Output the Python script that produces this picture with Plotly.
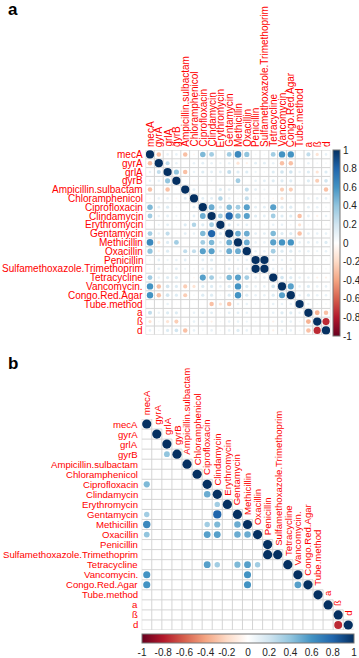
import numpy as np
import plotly.graph_objects as go

W, H = 359, 658

labels = ["mecA", "gyrA", "grlA", "gyrB", "Ampicillin.sulbactam", "Chloramphenicol",
          "Ciprofloxacin", "Clindamycin", "Erythromycin", "Gentamycin", "Methicillin",
          "Oxacillin", "Penicillin", "Sulfamethoxazole.Trimethoprim", "Tetracycline",
          "Vancomycin.", "Congo.Red.Agar", "Tube.method", "a", "ß", "d"]

# lower triangle of the correlation matrix, row i -> columns 0..i-1
lower_rows = [
    [],
    [-0.30],
    [0.10, 0.25],
    [0.10, 0.10, 0.40],
    [-0.30, 0.00, -0.30, 0.03],
    [-0.05, 0.10, 0.10, -0.05, 0.12],
    [0.45, 0.12, 0.15, 0.05, 0.00, 0.12],
    [0.35, 0.10, 0.12, 0.08, 0.05, 0.12, 0.50],
    [0.00, 0.08, 0.12, 0.04, 0.15, 0.30, 0.15, 0.35],
    [0.35, 0.10, 0.25, 0.05, 0.12, 0.10, 0.45, 0.80, 0.15],
    [0.65, -0.15, 0.15, 0.35, 0.00, 0.05, 0.35, 0.45, 0.12, 0.50],
    [0.40, -0.08, 0.15, 0.00, 0.25, 0.25, 0.55, 0.55, 0.12, 0.50, 0.50],
    [0.05, 0.12, 0.08, 0.10, 0.12, 0.05, 0.12, 0.15, 0.05, 0.12, 0.10, 0.10],
    [0.05, 0.12, 0.05, 0.12, 0.08, 0.05, 0.12, 0.12, 0.05, 0.12, 0.10, 0.10, 1.00],
    [0.35, 0.10, 0.15, 0.15, 0.00, -0.05, 0.55, 0.35, 0.10, 0.45, 0.55, 0.35, 0.10, 0.10],
    [0.60, -0.30, 0.20, 0.15, -0.25, -0.15, 0.15, 0.15, 0.10, 0.15, 0.60, 0.15, 0.10, 0.10, 0.20],
    [0.60, -0.30, 0.20, 0.15, -0.25, 0.05, 0.15, 0.15, 0.05, 0.15, 0.60, 0.15, 0.10, 0.10, 0.15, 0.55],
    [0.00, 0.00, 0.10, 0.03, 0.00, 0.03, 0.00, -0.30, -0.15, -0.30, 0.10, 0.10, 0.05, 0.05, 0.10, 0.10, 0.10],
    [0.25, 0.10, 0.15, 0.15, 0.00, 0.10, 0.12, 0.12, 0.05, 0.12, 0.12, 0.10, 0.05, 0.05, 0.10, 0.15, 0.15, 0.10],
    [-0.15, 0.05, -0.15, -0.25, 0.05, 0.10, 0.10, -0.08, 0.05, 0.10, 0.10, 0.08, 0.05, 0.05, -0.08, 0.10, 0.10, 0.05, -0.35],
    [0.10, 0.05, 0.15, 0.20, -0.30, 0.10, 0.05, 0.10, 0.05, 0.10, 0.15, 0.10, 0.05, 0.05, -0.08, 0.10, 0.10, 0.05, -0.30, -0.75],
]

# significant pairs shown in panel b (row, column)
sig_pairs = [
    ("gyrB", "grlA"),
    ("Ciprofloxacin", "mecA"),
    ("Clindamycin", "Ciprofloxacin"),
    ("Erythromycin", "Clindamycin"),
    ("Gentamycin", "mecA"), ("Gentamycin", "Clindamycin"),
    ("Methicillin", "mecA"), ("Methicillin", "Ciprofloxacin"), ("Methicillin", "Clindamycin"),
    ("Methicillin", "Gentamycin"),
    ("Oxacillin", "mecA"), ("Oxacillin", "Ciprofloxacin"), ("Oxacillin", "Clindamycin"),
    ("Oxacillin", "Gentamycin"), ("Oxacillin", "Methicillin"),
    ("Sulfamethoxazole.Trimethoprim", "Penicillin"),
    ("Tetracycline", "Ciprofloxacin"), ("Tetracycline", "Clindamycin"), ("Tetracycline", "Gentamycin"),
    ("Tetracycline", "Methicillin"), ("Tetracycline", "Oxacillin"),
    ("Vancomycin.", "mecA"), ("Vancomycin.", "Methicillin"),
    ("Congo.Red.Agar", "mecA"), ("Congo.Red.Agar", "Methicillin"), ("Congo.Red.Agar", "Vancomycin."),
    ("d", "ß"),
]

cbar_vals = [-1, -0.8, -0.6, -0.4, -0.2, 0, 0.2, 0.4, 0.6, 0.8, 1]
cbar_text = ["-1", "-0.8", "-0.6", "-0.4", "-0.2", "0", "0.2", "0.4", "0.6", "0.8", "1"]

rdbu = ["#67001F", "#B2182B", "#D6604D", "#F4A582", "#FDDBC7", "#FFFFFF",
        "#D1E5F0", "#92C5DE", "#4393C3", "#2166AC", "#053061"]
cscale = [[i / 10, c] for i, c in enumerate(rdbu)]

n = len(labels)
M = np.eye(n)
for i, row in enumerate(lower_rows):
    for j, v in enumerate(row):
        M[i, j] = v
        M[j, i] = v

FONT = "Liberation Sans, Arial, sans-serif"
RED = "#FF0000"
GRID = "#D4D4D4"

# panel geometry (pixels)
ax0, ax1, ay0, ay1 = 145.6, 330.4, 150.0, 334.8
bx0, bx1, by0, by1 = 141.7, 353.3, 419.0, 630.0

fig = go.Figure()

# ---- grid lines panel a
gx, gy = [], []
for k in range(n + 1):
    gx += [k - 0.5, k - 0.5, None]
    gy += [-0.5, n - 0.5, None]
    gx += [-0.5, n - 0.5, None]
    gy += [k - 0.5, k - 0.5, None]
fig.add_trace(go.Scatter(x=gx, y=gy, mode="lines", line=dict(color=GRID, width=1),
                         hoverinfo="skip", showlegend=False, xaxis="x", yaxis="y"))

# ---- circles panel a
xs, ys, cs, ss = [], [], [], []
for i in range(n):
    for j in range(n):
        v = M[i, j]
        if v == 0:
            continue
        xs.append(j); ys.append(i); cs.append(v)
        ss.append(8.2 * np.sqrt(abs(v)))
fig.add_trace(go.Scatter(x=xs, y=ys, mode="markers",
                         marker=dict(size=ss, color=cs, coloraxis="coloraxis", opacity=1,
                                     line=dict(width=0)),
                         showlegend=False, xaxis="x", yaxis="y"))

# ---- grid lines panel b (lower triangle)
gx, gy = [], []
for k in range(n + 1):
    gx += [-0.5, min(k, n - 1) + 0.5, None]
    gy += [k - 0.5, k - 0.5, None]
    ystart = -0.5 if k == 0 else (min(k, n) - 1) - 0.5
    gx += [k - 0.5, k - 0.5, None]
    gy += [ystart, n - 0.5, None]
fig.add_trace(go.Scatter(x=gx, y=gy, mode="lines", line=dict(color=GRID, width=1),
                         hoverinfo="skip", showlegend=False, xaxis="x2", yaxis="y2"))

# ---- circles panel b
idx = {l: k for k, l in enumerate(labels)}
bx, by, bc, bs = [], [], [], []
for k in range(n):
    bx.append(k); by.append(k); bc.append(1.0); bs.append(9.2)
for r, c in sig_pairs:
    i, j = idx[r], idx[c]
    v = M[i, j]
    bx.append(j); by.append(i); bc.append(v); bs.append(9.2 * np.sqrt(abs(v)))
fig.add_trace(go.Scatter(x=bx, y=by, mode="markers",
                         marker=dict(size=bs, color=bc, coloraxis="coloraxis2", opacity=1,
                                     line=dict(width=0)),
                         showlegend=False, xaxis="x2", yaxis="y2"))

ann = []
for k, l in enumerate(labels):
    # panel a
    ann.append(dict(x=k, y=-0.5, xref="x", yref="y", text=l, textangle=-90, showarrow=False,
                    xanchor="center", yanchor="bottom", yshift=2, borderpad=0,
                    font=dict(family=FONT, size=10, color=RED)))
    ann.append(dict(x=-0.5, y=k, xref="x", yref="y", text=l, showarrow=False,
                    xanchor="right", yanchor="middle", xshift=-2, borderpad=0,
                    font=dict(family=FONT, size=10, color=RED)))
    # panel b
    ann.append(dict(x=k, y=k - 0.5, xref="x2", yref="y2", text=l, textangle=-90, showarrow=False,
                    xanchor="center", yanchor="bottom", yshift=3, borderpad=0,
                    font=dict(family=FONT, size=9.6, color=RED)))
    ann.append(dict(x=-0.5, y=k, xref="x2", yref="y2", text=l, showarrow=False,
                    xanchor="right", yanchor="middle", xshift=-3, borderpad=0,
                    font=dict(family=FONT, size=9.6, color=RED)))

ann.append(dict(x=6 / W, y=1 - 10 / H, xref="paper", yref="paper", text="<b>a</b>", showarrow=False,
                xanchor="left", yanchor="middle", font=dict(family=FONT, size=17, color="black")))
ann.append(dict(x=6 / W, y=1 - 363 / H, xref="paper", yref="paper", text="<b>b</b>", showarrow=False,
                xanchor="left", yanchor="middle", font=dict(family=FONT, size=17, color="black")))

hidden = dict(visible=False, showgrid=False, zeroline=False)
fig.update_layout(
    width=W, height=H,
    margin=dict(l=0, r=0, t=0, b=0, autoexpand=False),
    paper_bgcolor="white", plot_bgcolor="white",
    xaxis=dict(domain=[ax0 / W, ax1 / W], range=[-0.5, n - 0.5], **hidden),
    yaxis=dict(domain=[1 - ay1 / H, 1 - ay0 / H], range=[n - 0.5, -0.5], **hidden),
    xaxis2=dict(domain=[bx0 / W, bx1 / W], range=[-0.5, n - 0.5], **hidden),
    yaxis2=dict(domain=[1 - by1 / H, 1 - by0 / H], range=[n - 0.5, -0.5], **hidden),
    coloraxis=dict(colorscale=cscale, cmin=-1, cmax=1,
                   colorbar=dict(x=332.7 / W, xanchor="left", y=1 - 150 / H, yanchor="top",
                                 len=186 / H, lenmode="fraction", thickness=7, xpad=0, ypad=0,
                                 tickvals=cbar_vals, ticktext=cbar_text, ticks="",
                                 tickfont=dict(family=FONT, size=10, color="#222"),
                                 outlinewidth=1, outlinecolor="#777")),
    coloraxis2=dict(colorscale=cscale, cmin=-1, cmax=1,
                    colorbar=dict(orientation="h", x=142 / W, xanchor="left", y=1 - 634 / H,
                                  yanchor="top", len=212 / W, lenmode="fraction", thickness=9,
                                  xpad=0, ypad=0, tickvals=cbar_vals, ticktext=cbar_text, ticks="",
                                  tickfont=dict(family=FONT, size=10, color="#222"),
                                  outlinewidth=1, outlinecolor="#777")),
    annotations=ann,
    showlegend=False,
)

fig.write_html("out.html", config={"displayModeBar": False, "staticPlot": True},
               post_script="document.body.style.margin='0';document.body.style.padding='0';")
